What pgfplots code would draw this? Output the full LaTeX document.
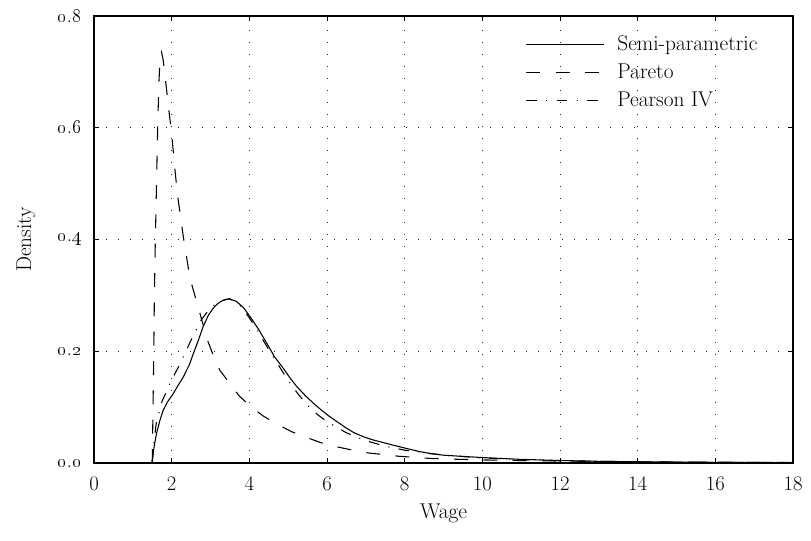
\documentclass[border=0pt]{standalone}
\usepackage{pgfplots}
\pgfplotsset{compat=1.18}
\newcommand{\osn}[1]{\oldstylenums{#1}}
\newcommand{\tf}{\fontsize{15.5}{18}\selectfont}
\newcommand{\lf}{\fontsize{16}{19}\selectfont}
\newcommand{\yl}[1]{{\tf\osn{0}.\osn{#1}}}
\newcommand{\xl}[1]{{\tf #1}}
\begin{document}
\begin{tikzpicture}[font=\lf]
\useasboundingbox (-70.5pt,-57.75pt) rectangle (537.75pt,347.25pt);
\begin{axis}[name=ax, scale only axis, width=524.25pt, height=335.25pt,
  at={(0pt,0pt)}, anchor=south west,
  xmin=0, xmax=18, ymin=0, ymax=0.8,
  xtick={0,2,...,18}, ytick={0,0.2,0.4,0.6,0.8},
  xticklabels={\xl{0},\xl{2},\xl{4},\xl{6},\xl{8},\xl{10},\xl{12},\xl{14},\xl{16},\xl{18}},
  yticklabels={\yl{0},\yl{2},\yl{4},\yl{6},\yl{8}},
  tick label style={font=\tf},
  grid=major,
  major grid style={black!85, line width=0.6pt, dash pattern=on 0.8pt off 8.2pt},
  axis line style={line width=1.1pt},
  tick style={black, line width=0.6pt}, major tick length=4pt, tick align=inside,
  xticklabel style={yshift=-6.5pt},
  yticklabel style={xshift=-6pt},
  xlabel={\lf Wage}, ylabel={\lf Density},
  xlabel style={at={(axis description cs:0.5,-0.082)}, anchor=north},
  ylabel style={at={(axis description cs:-0.077,0.5)}, anchor=south},
  legend style={draw=none, fill=none, at={(0.6114,0.968)}, anchor=north west,
    font=\lf, row sep=4.5pt},
  legend cell align=left,
  legend image code/.code={\draw[#1] (0pt,0pt) -- (58pt,0pt); \path (66pt,0pt);},
]
\addplot[black, line width=0.8pt] coordinates {
(1.49,0) (1.55,0.03) (1.61,0.053) (1.7,0.077) (1.785,0.095) (1.9,0.11) (2.02,0.122)
(2.15,0.137) (2.3,0.154) (2.45,0.175) (2.56,0.196) (2.7,0.222) (2.81,0.244) (2.95,0.265)
(3.07,0.277) (3.2,0.286) (3.29,0.29) (3.4,0.293) (3.48,0.2935) (3.6,0.291) (3.67,0.289)
(3.85,0.278) (4.02,0.262) (4.25,0.238) (4.45,0.214) (4.65,0.19) (4.88,0.169) (5.05,0.152)
(5.22,0.137) (5.45,0.12) (5.65,0.107) (5.85,0.095) (6.05,0.084) (6.3,0.072) (6.51,0.062)
(6.7,0.054) (6.94,0.047) (7.15,0.042) (7.37,0.038) (7.7,0.032) (8.05,0.026) (8.35,0.021)
(8.65,0.017) (9.0,0.014) (9.34,0.0125) (9.94,0.010) (10.5,0.008) (11,0.0065) (12,0.0045)
(13,0.003) (14,0.0022) (15,0.0016) (16,0.0012) (17,0.0009) (18,0.0007)
};
\addlegendentry{Semi-parametric}
\addplot[black, line width=0.8pt, dash pattern=on 10.5pt off 11.5pt] coordinates {
(1.5,0) (1.52,0.1) (1.54,0.2) (1.555,0.3) (1.58,0.4) (1.61,0.5) (1.64,0.6) (1.67,0.68)
(1.70,0.72) (1.74,0.735) (1.78,0.722) (1.85,0.68) (1.93,0.63) (2.0,0.59) (2.07,0.535)
(2.15,0.48) (2.3,0.405) (2.47,0.331) (2.58,0.304) (2.69,0.277) (2.8,0.25) (2.92,0.22)
(3.07,0.193) (3.24,0.166) (3.48,0.144) (3.74,0.12) (4.02,0.102) (4.36,0.084) (4.70,0.070)
(5.09,0.056) (5.46,0.046) (5.86,0.036) (6.25,0.029) (6.66,0.023) (7.06,0.018) (7.47,0.015)
(7.86,0.012) (8.3,0.010) (8.7,0.008) (9.3,0.0068) (10,0.0055) (11,0.0044) (12,0.0035)
(14,0.0022) (16,0.0015) (18,0.001)
};
\addlegendentry{Pareto}
\addplot[black, line width=0.8pt, dash pattern=on 8pt off 7pt on 0.8pt off 7pt] coordinates {
(1.5,0) (1.55,0.04) (1.6,0.07) (1.75,0.11) (2.0,0.149) (2.2,0.175) (2.5,0.22) (2.75,0.255)
(3.0,0.278) (3.25,0.29) (3.5,0.294) (3.75,0.283) (4.0,0.26) (4.25,0.232) (4.5,0.203)
(4.75,0.175) (5.0,0.148) (5.25,0.124) (5.5,0.103) (5.75,0.087) (6.0,0.074) (6.5,0.054)
(7.0,0.040) (7.5,0.030) (8.0,0.023) (9.0,0.014) (10,0.009) (11,0.006) (12,0.004)
(14,0.002) (16,0.0012) (18,0.0008)
};
\addlegendentry{Pearson IV}
\end{axis}
\end{tikzpicture}
\end{document}
